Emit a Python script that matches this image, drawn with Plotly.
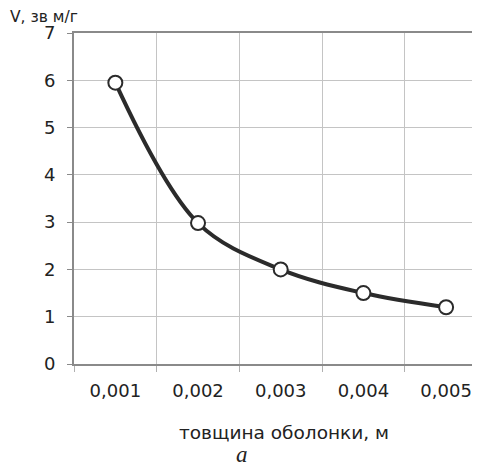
import plotly.graph_objects as go

categories = ["0,001", "0,002", "0,003", "0,004", "0,005"]
values = [5.95, 2.98, 2.0, 1.5, 1.2]
y_ticks = [0, 1, 2, 3, 4, 5, 6, 7]

FONT = "DejaVu Sans"
DARK = "#2b2b2b"

# page body has an 8px default margin; figure is sized to fit the window
W, H = 464, 459
L, T, B = 66, 25, 103
PW = W - L
PH = H - T - B
CAT = 406 / 4.91  # pixel width of one category


def px_x(fx):
    return (fx - L) / PW


def px_y(fy):
    return (H - B - fy) / PH


fig = go.Figure()
fig.add_trace(go.Scatter(
    x=categories, y=values, mode="lines+markers",
    line=dict(color=DARK, width=4, shape="spline", smoothing=1.0),
    marker=dict(symbol="circle", size=14, color="white",
                line=dict(color=DARK, width=2)),
    cliponaxis=False, showlegend=False,
))

fig.update_layout(
    width=W, height=H,
    margin=dict(l=L, r=0, t=T, b=B),
    paper_bgcolor="white", plot_bgcolor="white",
    font=dict(family=FONT, size=17, color="#222"),
    xaxis=dict(
        type="category", range=[-0.5, -0.5 + PW / CAT], automargin=False,
        tickson="boundaries", ticks="outside", ticklen=6, tickcolor="#b0b0b0",
        showgrid=True, gridcolor="#c4c4c4", gridwidth=1,
        showline=True, linecolor="#8a8a8a", linewidth=2, mirror=True,
        tickfont=dict(family=FONT, size=18, color="#222"),
        ticklabelstandoff=9,
    ),
    yaxis=dict(
        range=[0, 7], tickvals=y_ticks, automargin=False,
        ticks="outside", ticklen=5, tickcolor="#8a8a8a",
        showgrid=True, gridcolor="#c4c4c4", gridwidth=1,
        showline=True, linecolor="#8a8a8a", linewidth=2,
        zeroline=False,
        ticklabelstandoff=8,
        tickfont=dict(family=FONT, size=18, color="#222"),
    ),
    annotations=[
        dict(text="V, зв м/г", xref="paper", yref="paper", x=px_x(0), y=px_y(9),
             xanchor="left", yanchor="middle", showarrow=False,
             font=dict(family=FONT, size=15.5, color="#222")),
        dict(text="товщина оболонки, м", xref="paper", yref="paper",
             x=px_x(276), y=px_y(424),
             xanchor="center", yanchor="middle", showarrow=False,
             font=dict(family=FONT, size=18.5, color="#222")),
        dict(text="<i>a</i>", xref="paper", yref="paper", x=px_x(234), y=px_y(446),
             xanchor="center", yanchor="middle", showarrow=False,
             font=dict(family="Liberation Serif", size=23, color="#222")),
    ],
)

fig.write_html("out.html")
